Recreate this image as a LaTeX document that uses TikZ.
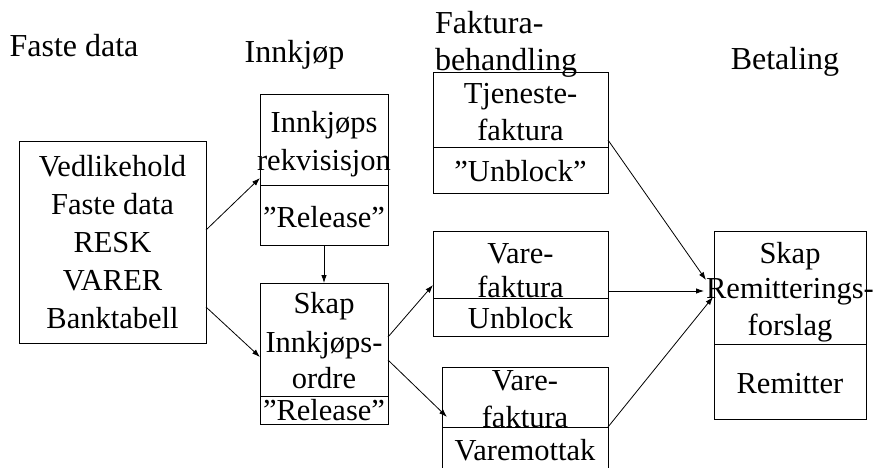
\documentclass[tikz,border=0pt]{standalone}
\usepackage{fontspec}
\setmainfont{Liberation Serif}
\usetikzlibrary{arrows.meta}
\tikzset{
  box/.style={draw=black, line width=0.8pt, rectangle, inner sep=0pt, outer sep=0pt},
  txt/.style={inner sep=0pt, outer sep=0pt, anchor=base, font=\fontsize{30.5}{36}\selectfont},
  head/.style={inner sep=0pt, outer sep=0pt, anchor=base, font=\fontsize{32}{38}\selectfont},
  flow/.style={line width=0.8pt, -{Latex[length=8pt,width=5.5pt]}},
}
\begin{document}
\begin{tikzpicture}[x=1pt, y=-1pt]
\useasboundingbox (0,0) rectangle (878,468);

% column headings
\node[head] (hFaste) at (74,57) {Faste data};
\node[head] (hInnkjop) at (294.5,63) {Innkjøp};
\node[head, anchor=base west] (hFakt1) at (435,34) {Faktura-};
\node[head, anchor=base west] (hFakt2) at (435,71) {behandling};
\node[head] (hBetal) at (785,70) {Betaling};

% boxes
\node[box, minimum width=187pt, minimum height=202pt] (fd) at (112.5,242) {};
\node[box, minimum width=128pt, minimum height=91pt] (ikA) at (324,139.5) {};
\node[box, minimum width=128pt, minimum height=60pt] (ikB) at (324,215) {};
\node[box, minimum width=128pt, minimum height=113pt] (skA) at (324,339.5) {};
\node[box, minimum width=128pt, minimum height=28pt] (skB) at (324,410) {};
\node[box, minimum width=175pt, minimum height=75pt] (tjA) at (520.5,109.5) {};
\node[box, minimum width=175pt, minimum height=46pt] (tjB) at (520.5,170) {};
\node[box, minimum width=175pt, minimum height=67pt] (v1A) at (520.5,264.5) {};
\node[box, minimum width=175pt, minimum height=38pt] (v1B) at (520.5,317) {};
\node[box, minimum width=166pt, minimum height=60pt] (v2A) at (525,397) {};
\node[box, minimum width=166pt, minimum height=43pt] (v2B) at (525,448.5) {};
\node[box, minimum width=152pt, minimum height=113pt] (rmA) at (790,287.5) {};
\node[box, minimum width=152pt, minimum height=75pt] (rmB) at (790,381.5) {};

% box texts
\node[txt] (fd1) at (112.5,176) {Vedlikehold};
\node[txt] (fd2) at (112.5,214) {Faste data};
\node[txt] (fd3) at (112.5,252) {RESK};
\node[txt] (fd4) at (112.5,290) {VARER};
\node[txt] (fd5) at (112.5,328) {Banktabell};

\node[txt] (ik1) at (324,133) {Innkjøps};
\node[txt] (ik2) at (324,171) {rekvisisjon};
\node[txt] (ik3) at (324,227) {”Release”};

\node[txt] (sk1) at (324,313) {Skap};
\node[txt] (sk2) at (324,352) {Innkjøps-};
\node[txt] (sk3) at (324,388) {ordre};
\node[txt] (sk4) at (324,420) {”Release”};

\node[txt] (tj1) at (520.5,104) {Tjeneste-};
\node[txt] (tj2) at (520.5,140) {faktura};
\node[txt] (tj3) at (520.5,182) {”Unblock”};

\node[txt] (va1) at (520.5,263) {Vare-};
\node[txt] (va2) at (520.5,297) {faktura};
\node[txt] (va3) at (520.5,328) {Unblock};

\node[txt] (vb1) at (525,390) {Vare-};
\node[txt] (vb2) at (525,427) {faktura};
\node[txt] (vb3) at (525,460) {Varemottak};

\node[txt] (rm1) at (790,263) {Skap};
\node[txt] (rm2) at (790,298) {Remitterings-};
\node[txt] (rm3) at (790,335) {forslag};
\node[txt] (rm4) at (790,393) {Remitter};

% flow arrows
\draw[flow] ([yshift=12pt]fd.east) -- ([yshift=-38.5pt]ikA.west);
\draw[flow] ([yshift=-65pt]fd.east) -- ([yshift=-17.5pt]skA.west);
\draw[flow] (ikB.south) -- (skA.north);
\draw[flow] ([yshift=2.5pt]skA.east) -- ([yshift=-20.5pt]v1A.west);
\draw[flow] ([yshift=-20.5pt]skA.east) -- ([xshift=5pt,yshift=-20pt]v2A.west);
\draw[flow] ([yshift=-30.5pt]tjA.east) -- ([xshift=-8pt,yshift=7.5pt]rmA.west);
\draw[flow] ([yshift=-26.5pt]v1A.east) -- ([xshift=-10pt,yshift=-3.5pt]rmA.west);
\draw[flow] (v2A.south east) -- ([xshift=-1pt,yshift=-9.5pt]rmA.west);
\end{tikzpicture}
\end{document}
